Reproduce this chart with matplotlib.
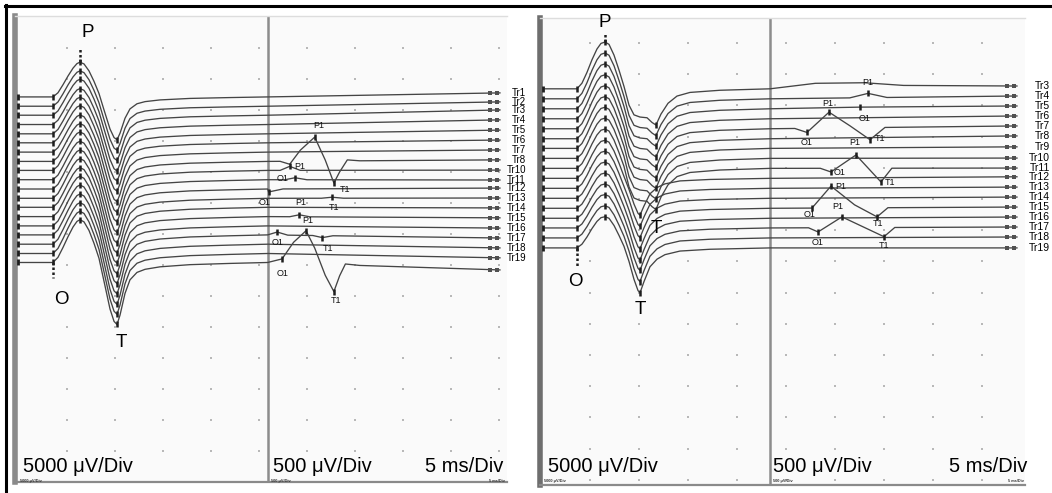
import numpy as np
import matplotlib.pyplot as plt
from matplotlib.lines import Line2D

plt.rcParams['font.family'] = ['Liberation Sans', 'DejaVu Sans']

W, H = 1052, 493

# ---------------- recording 1 (left screen) ----------------
left_names = ['Tr1', 'Tr2', 'Tr3', 'Tr4', 'Tr5', 'Tr6', 'Tr7', 'Tr8', 'Tr10', 'Tr11',
              'Tr12', 'Tr13', 'Tr14', 'Tr15', 'Tr16', 'Tr17', 'Tr18', 'Tr19', '']
# trace offsets in screen divisions (start of sweep / end of sweep)
left_start = [12.42, 12.12, 11.83, 11.53, 11.23, 10.94, 10.64, 10.34, 10.05, 9.75,
              9.45, 9.15, 8.86, 8.56, 8.26, 7.97, 7.67, 7.37, 7.08]
left_end = [12.55, 12.26, 12.0, 11.68, 11.35, 11.03, 10.71, 10.39, 10.06, 9.74,
            9.48, 9.16, 8.84, 8.52, 8.19, 7.87, 7.55, 7.23, 6.84]
# M wave: peak (P) and trough (T) amplitudes, mV
left_p_mv = [5.6, 5.7, 5.8, 5.8, 5.9, 6.0, 6.0, 6.1, 6.2, 6.2,
             6.3, 6.4, 6.4, 6.5, 6.6, 6.6, 6.7, 6.8, 6.9]
left_t_mv = [6.9, 7.1, 7.3, 7.5, 7.6, 7.8, 8.0, 8.2, 8.3, 8.5,
             8.7, 8.8, 9.0, 9.2, 9.3, 9.5, 9.7, 9.8, 10.0]
# M wave shape (fraction of P above, fraction of T below baseline)
left_wave_ms = [0.1, 3.54, 4.06, 4.58, 5.10, 5.63, 6.04, 6.35, 6.77, 7.29, 7.81, 8.33,
                8.85, 9.48, 9.90, 10.21, 10.52, 11.04, 11.56, 12.29, 13.13, 14.69,
                17.81, 21.98, 25.9]
left_wave = [0, 0, 0.12, 0.35, 0.6, 0.83, 0.96, 1.0, 0.95, 0.75, 0.45, 0.1,
             -0.3, -0.75, -0.95, -1.0, -0.85, -0.5, -0.28, -0.16, -0.11, -0.07,
             -0.035, -0.015, 0]
left_o_ms, left_p_ms, left_tr_ms = 3.54, 6.35, 10.21
left_switch_ms, left_stop_ms = 25.9, 50.1
# late responses at 500 uV/Div: (trace, ms, uV, label)
left_late = [
    (7, 27.2, 0, ''), (7, 28.2, -48, ''), (7, 29.3, 177, ''), (7, 30.8, 387, 'P1'),
    (7, 31.9, 16, ''), (7, 32.8, -355, 'T1'), (7, 33.4, -177, ''), (7, 34.2, 16, ''),
    (7, 35.5, 0, ''),
    (8, 27.2, 0, ''), (8, 28.2, 65, 'P1'), (8, 29.3, 0, ''),
    (9, 27.7, 0, ''), (9, 28.75, 32, 'O1'), (9, 30.0, 0, ''),
    (10, 26.0, -48, 'O1'), (10, 27.5, 0, ''),
    (11, 31.5, 0, ''), (11, 32.6, 16, 'T1'), (11, 33.8, 0, ''),
    (13, 28.2, 0, ''), (13, 29.2, 32, 'P1'), (13, 30.3, 0, ''),
    (15, 26.9, 48, 'O1'), (15, 28.0, 0, ''), (15, 30.6, 0, ''), (15, 31.6, -32, 'T1'),
    (15, 32.7, 0, ''),
    (18, 27.4, 65, 'O1'), (18, 28.6, 339, ''), (18, 29.9, 532, 'P1'), (18, 30.8, 258, ''),
    (18, 31.9, -177, ''), (18, 32.8, -435, 'T1'), (18, 33.4, -177, ''), (18, 34.0, 16, ''),
    (18, 35.5, 0, ''),
]

# ---------------- recording 2 (right screen) ----------------
right_names = ['Tr3', 'Tr4', 'Tr5', 'Tr6', 'Tr7', 'Tr8', 'Tr9', 'Tr10', 'Tr11', 'Tr12',
               'Tr13', 'Tr14', 'Tr15', 'Tr16', 'Tr17', 'Tr18', 'Tr19']
right_start = [12.53, 12.21, 11.89, 11.57, 11.25, 10.93, 10.62, 10.30, 9.98, 9.66,
               9.34, 9.02, 8.70, 8.38, 8.07, 7.75, 7.43]
right_end = [12.62, 12.30, 11.98, 11.66, 11.34, 11.02, 10.67, 10.31, 9.99, 9.71,
             9.38, 9.06, 8.74, 8.42, 8.10, 7.78, 7.43]
right_p_mv = [7.5, 7.35, 7.2, 7.05, 6.9, 6.75, 6.6, 6.45, 6.3, 6.1,
              5.95, 5.8, 5.65, 5.5, 5.35, 5.15, 5.0]
right_t_mv = [5.8, 5.9, 6.0, 6.1, 6.2, 6.3, 6.4, 6.5, 6.6, 5.9,
              6.1, 6.3, 6.5, 6.7, 6.8, 7.0, 7.2]
right_late_trough = [True] * 9 + [False] * 8
right_wave_a_ms = [0.41, 3.67, 4.18, 4.69, 5.2, 5.71, 6.12, 6.53, 6.94, 7.45, 7.96, 8.47,
                   8.98, 9.49, 10.1, 10.82, 11.33, 11.73, 12.24, 12.96, 13.88, 15.2,
                   18.27, 23.37]
right_wave_a = [0, 0, 0.12, 0.35, 0.62, 0.85, 0.97, 1.0, 0.95, 0.72, 0.4, 0.05,
                -0.45, -0.72, -0.78, -0.8, -0.93, -1.0, -0.7, -0.4, -0.2, -0.1,
                -0.04, 0]
right_wave_b_ms = [0.41, 3.67, 4.18, 4.69, 5.2, 5.71, 6.12, 6.53, 6.94, 7.45, 7.96, 8.47,
                   8.98, 9.49, 9.9, 10.1, 10.51, 11.12, 11.84, 12.65, 14.18, 17.24,
                   23.37]
right_wave_b = [0, 0, 0.12, 0.35, 0.62, 0.85, 0.97, 1.0, 0.95, 0.72, 0.4, 0.05,
                -0.3, -0.7, -0.95, -1.0, -0.75, -0.42, -0.25, -0.15, -0.07, -0.03, 0]
right_o_ms, right_p_ms = 3.67, 6.53
right_tr_a_ms, right_tr_b_ms = 11.73, 10.1
right_switch_ms, right_stop_ms = 23.37, 48.57
right_late = [
    (0, 28.0, 80, ''), (0, 33.0, 80, ''), (0, 37.0, 30, ''),
    (1, 31.5, 0, ''), (1, 33.37, 69, 'P1'), (1, 35.3, 0, ''),
    (2, 32.55, 10, 'O1'),
    (4, 25.9, 0, ''), (4, 27.14, -66, 'O1'), (4, 29.39, 255, 'P1'), (4, 31.53, 32, ''),
    (4, 33.57, -194, 'T1'), (4, 35.1, 0, ''),
    (8, 28.5, 0, ''), (8, 29.59, -59, 'O1'), (8, 32.14, 213, 'P1'), (8, 34.69, -220, 'T1'),
    (8, 35.8, 0, ''),
    (12, 26.7, 0, ''), (12, 27.65, 0, 'O1'), (12, 29.59, 351, 'P1'), (12, 32.0, 48, ''),
    (12, 34.29, -146, 'T1'), (12, 35.4, 0, ''),
    (14, 27.3, 0, ''), (14, 28.27, -67, 'O1'), (14, 30.71, 173, 'P1'), (14, 35.0, -147, 'T1'),
    (14, 36.1, 0, ''),
]

# label offsets (pixels right, pixels down) for late-response markers
left_lab_off = {(7, 'P1'): (4, -12), (7, 'T1'): (11, 7), (8, 'P1'): (10, 0),
                (9, 'O1'): (-12, 1), (10, 'O1'): (-4, 11), (11, 'T1'): (2, 10),
                (13, 'P1'): (1, -12), (15, 'O1'): (0, 10), (15, 'T1'): (6, 11),
                (18, 'O1'): (1, 15), (18, 'P1'): (2, -10), (18, 'T1'): (2, 9)}
right_lab_off = {(1, 'P1'): (0, -11), (2, 'O1'): (5, 11), (4, 'O1'): (0, 10),
                 (4, 'P1'): (-1, -9), (4, 'T1'): (10, -1), (8, 'O1'): (9, 1),
                 (8, 'P1'): (-1, -12), (8, 'T1'): (9, 1), (12, 'O1'): (-2, 6),
                 (12, 'P1'): (10, 0), (12, 'T1'): (1, 7), (14, 'O1'): (0, 11),
                 (14, 'P1'): (-4, -10), (14, 'T1'): (0, 9)}

TRACE = '#444444'
MARK = '#1e1e1e'

fig = plt.figure(figsize=(W / 100, H / 100), dpi=100)
fig.patch.set_facecolor('white')


def px_axes(x0, y0, x1, y1):
    return fig.add_axes([x0 / W, 1 - y1 / H, (x1 - x0) / W, (y1 - y0) / H])


def screen(ax, xlim, ylim, switch, dots_x, dots_y, edge):
    ax.set_xlim(*xlim)
    ax.set_ylim(*ylim)
    ax.set_facecolor('#fafafa')
    ax.set_xticks([])
    ax.set_yticks([])
    ax.spines['right'].set_visible(False)
    ax.spines['top'].set_color('#dddddd')
    ax.spines['top'].set_linewidth(1)
    ax.spines['bottom'].set_color('#8a8a8a')
    ax.spines['bottom'].set_linewidth(1.6)
    ax.spines['left'].set_color(edge)
    ax.spines['left'].set_linewidth(4)
    gx, gy = np.meshgrid(dots_x, dots_y)
    ax.plot(gx.ravel(), gy.ravel(), 's', ms=1.6, color='#b8b8b8', mew=0, zorder=1)
    ax.axvline(switch, color='#8c8c8c', lw=1.8, zorder=2)


def late_base(i, t, start, end, switch, stop):
    return start[i] + (end[i] - start[i]) * (np.asarray(t) - switch) / (stop - switch)


def draw_traces(ax, start, end, p_mv, t_mv, waves, switch, stop, late, lab_off):
    for i in range(len(start)):
        wt, wf = waves[i]
        f = np.array(wf)
        amp = np.where(f >= 0, f * p_mv[i], f * t_mv[i])
        y_early = start[i] + amp / 5.0          # 5000 uV/Div
        pts = sorted((ms, uv) for (k, ms, uv, lab) in late if k == i)
        lt = np.array([switch] + [p[0] for p in pts] + [stop])
        lu = np.array([0] + [p[1] for p in pts] + [0])
        y_late = late_base(i, lt, start, end, switch, stop) + lu / 500.0   # 500 uV/Div
        x = np.concatenate([wt[:-1], lt])
        y = np.concatenate([y_early[:-1], y_late])
        ax.plot(x, y, color=TRACE, lw=0.95, zorder=3, solid_joinstyle='round')
        # stimulus mark and end-of-sweep blocks
        ax.plot([wt[0] - 0.25], [start[i]], '|', ms=4, mew=2, color=MARK, zorder=4)
        ax.plot([stop - 1.0, stop - 0.35], [end[i], end[i]], 's', ms=3.2, mew=0,
                color='#505050', zorder=4)
    for (k, ms, uv, lab) in late:
        if not lab:
            continue
        yv = late_base(k, ms, start, end, switch, stop) + uv / 500.0
        ax.plot([ms], [yv], '|', ms=4.5, mew=1.8, color=MARK, zorder=5)
        dx, dy = lab_off[(k, lab)]
        ax.annotate(lab, (ms, yv), xytext=(dx, -dy), textcoords='offset pixels',
                    ha='center', va='center', fontsize=6.5, color='#111', zorder=6,
                    annotation_clip=False)


def opt_marks(ax, times, levels):
    ax.plot(times, levels, '|', ms=4, mew=1.8, color=MARK, zorder=5)


# ---- left screen ----
axL = px_axes(15, 16, 507, 482)
screen(axL, ((15 - 19) / 9.6, (507 - 19) / 9.6), (0, 15.03), left_switch_ms,
       np.arange(5, 51, 5), np.arange(1, 15), '#8a8a8a')
nL = len(left_start)
draw_traces(axL, left_start, left_end, left_p_mv, left_t_mv,
            [(np.array(left_wave_ms), left_wave)] * nL,
            left_switch_ms, left_stop_ms, left_late, left_lab_off)
ls = np.array(left_start)
opt_marks(axL, [left_o_ms] * nL, ls)
opt_marks(axL, [left_p_ms] * nL, ls + np.array(left_p_mv) / 5)
opt_marks(axL, [left_tr_ms] * nL, ls - np.array(left_t_mv) / 5)
axL.plot([left_o_ms] * 2, [ls[-1], ls[-1] - 0.5], color=MARK, lw=1.8, ls=(0, (1, 1)))
axL.plot([left_p_ms] * 2, [ls[0] + left_p_mv[0] / 5, ls[0] + left_p_mv[0] / 5 + 0.5],
         color=MARK, lw=1.8, ls=(0, (1, 1)))
for name, lv in zip(left_names, left_end):
    axL.annotate(name, (left_stop_ms, lv), xytext=(26, 0), textcoords='offset pixels',
                 ha='right', va='center', fontsize=7, annotation_clip=False)
axL.annotate('P', (left_p_ms, ls[0] + left_p_mv[0] / 5), xytext=(8, 30),
             textcoords='offset pixels', ha='center', va='center', fontsize=13.5)
axL.annotate('O', (left_o_ms, ls[-1]), xytext=(8, -37),
             textcoords='offset pixels', ha='center', va='center', fontsize=13.5)
axL.annotate('T', (left_tr_ms, ls[-1] - left_t_mv[-1] / 5), xytext=(4, -18),
             textcoords='offset pixels', ha='center', va='center', fontsize=13.5)

# ---- right screen ----
axR = px_axes(540, 18, 1025, 485)
screen(axR, ((540 - 541) / 9.8, (1025 - 541) / 9.8), (-0.17, 14.8), right_switch_ms,
       np.arange(5, 46, 5), np.arange(0, 15), '#6e6e6e')
waves_r = [(np.array(right_wave_a_ms), right_wave_a) if a else
           (np.array(right_wave_b_ms), right_wave_b) for a in right_late_trough]
draw_traces(axR, right_start, right_end, right_p_mv, right_t_mv, waves_r,
            right_switch_ms, right_stop_ms, right_late, right_lab_off)
rs = np.array(right_start)
nR = len(rs)
opt_marks(axR, [right_o_ms] * nR, rs)
opt_marks(axR, [right_p_ms] * nR, rs + np.array(right_p_mv) / 5)
tr_ms = [right_tr_a_ms if a else right_tr_b_ms for a in right_late_trough]
opt_marks(axR, tr_ms, rs - np.array(right_t_mv) / 5)
axR.plot([right_o_ms] * 2, [rs[-1], rs[-1] - 0.6], color=MARK, lw=1.8, ls=(0, (1, 1)))
axR.plot([right_p_ms] * 2, [rs[0] + right_p_mv[0] / 5, rs[0] + right_p_mv[0] / 5 + 0.3],
         color=MARK, lw=1.8, ls=(0, (1, 1)))
for name, lv in zip(right_names, right_end):
    axR.annotate(name, (right_stop_ms, lv), xytext=(33, 0), textcoords='offset pixels',
                 ha='right', va='center', fontsize=7.5, annotation_clip=False)
axR.annotate('P', (right_p_ms, rs[0] + right_p_mv[0] / 5), xytext=(0, 20),
             textcoords='offset pixels', ha='center', va='center', fontsize=13.5)
axR.annotate('O', (right_o_ms, rs[-1]), xytext=(-2, -34),
             textcoords='offset pixels', ha='center', va='center', fontsize=13.5)
axR.annotate('T', (right_tr_b_ms, rs[-1] - right_t_mv[-1] / 5), xytext=(0, -17),
             textcoords='offset pixels', ha='center', va='center', fontsize=13.5)
axR.annotate('T', (right_tr_a_ms, rs[8] - right_t_mv[8] / 5), xytext=(0, -19),
             textcoords='offset pixels', ha='center', va='center', fontsize=13.5)

# ---- scale captions ----
for x0, txt in [(23, '5000 μV/Div'), (273, '500 μV/Div'), (548, '5000 μV/Div'),
                (773, '500 μV/Div')]:
    fig.text(x0 / W, 1 - 467 / H, txt, fontsize=14.5, ha='left', va='center')
for x1 in (503, 1027):
    fig.text(x1 / W, 1 - 467 / H, '5 ms/Div', fontsize=14.5, ha='right', va='center')
for x0, txt in [(20, '5000 μV/Div'), (271, '500 μV/Div'), (544, '5000 μV/Div'),
                (773, '500 μV/Div')]:
    fig.text(x0 / W, 1 - 481 / H, txt, fontsize=2.8, ha='left', va='center',
             color='#333', weight='bold')
for x1 in (505, 1024):
    fig.text(x1 / W, 1 - 481 / H, '5 ms/Div', fontsize=2.8, ha='right', va='center',
             color='#333', weight='bold')

# outer frame
fig.add_artist(Line2D([5 / W, 1], [1 - 5.5 / H] * 2, color='black', lw=2.2,
                      transform=fig.transFigure))
fig.add_artist(Line2D([6 / W] * 2, [0, 1 - 5 / H], color='black', lw=2.2,
                      transform=fig.transFigure))

fig.savefig('out.png', dpi=100, facecolor='white')
